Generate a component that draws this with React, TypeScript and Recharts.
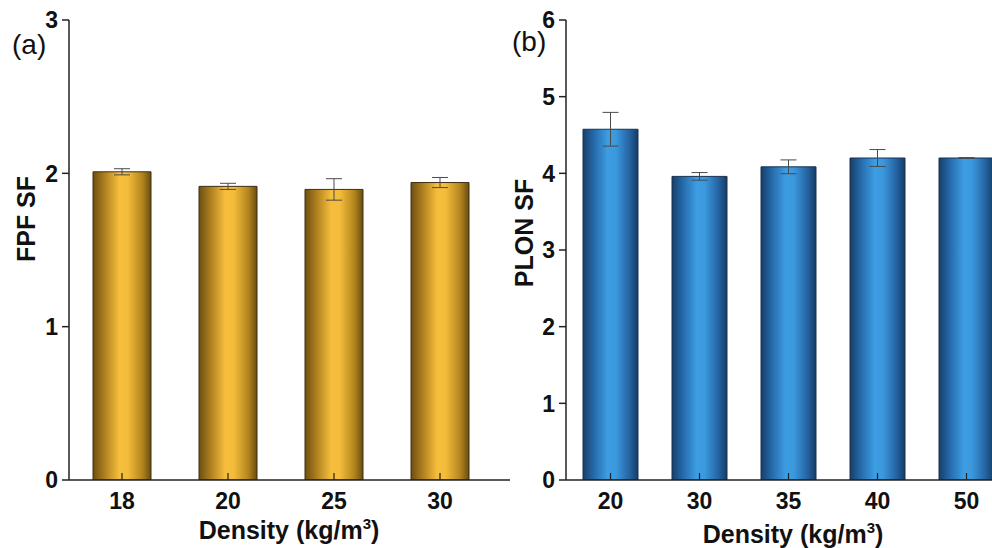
import React from 'react';
import { BarChart, Bar, XAxis, YAxis, ErrorBar } from 'recharts';

// (a) FPF
const fpfDensity = ['18', '20', '25', '30'];
const fpfSF = [2.01, 1.915, 1.895, 1.94];
const fpfErr = [0.02, 0.02, 0.07, 0.033];
const fpfTicks = [0, 1, 2, 3];

// (b) PLON
const plonDensity = ['20', '30', '35', '40', '50'];
const plonSF = [4.575, 3.96, 4.085, 4.2, 4.2];
const plonErr = [0.22, 0.05, 0.09, 0.11, 0.005];
const plonTicks = [0, 1, 2, 3, 4, 5, 6];

const fpfData = fpfDensity.map((d, i) => ({ name: d, value: fpfSF[i], err: fpfErr[i] }));
const plonData = plonDensity.map((d, i) => ({ name: d, value: plonSF[i], err: plonErr[i] }));

const FONT = '"Liberation Sans", Arial, sans-serif';

function XTick(props: any) {
  const { x, y, payload } = props;
  return (
    <text x={x} y={y} dy="0.72em" textAnchor="middle" fontSize={23} fontWeight="bold" fill="#111" fontFamily={FONT}>
      {payload.value}
    </text>
  );
}

function YTick(props: any) {
  const { x, y, payload } = props;
  return (
    <text x={x} y={y} dy="0.36em" textAnchor="end" fontSize={23} fontWeight="bold" fill="#111" fontFamily={FONT}>
      {payload.value}
    </text>
  );
}

function XTitle({ x, y }: { x: number; y: number }) {
  return (
    <text x={x} y={y} textAnchor="middle" fontSize={25} fontWeight="bold" fill="#111" fontFamily={FONT}>
      Density (kg/m<tspan dy={-10} fontSize={15}>3</tspan>
      <tspan dy={10}>)</tspan>
    </text>
  );
}

function YTitle({ x, y, text }: { x: number; y: number; text: string }) {
  return (
    <text
      x={x}
      y={y}
      transform={`rotate(-90, ${x}, ${y})`}
      textAnchor="middle"
      fontSize={25}
      fontWeight="bold"
      fill="#111"
      fontFamily={FONT}
    >
      {text}
    </text>
  );
}

export default function App() {
  return (
    <div
      style={{
        position: 'fixed',
        left: 0,
        top: 0,
        width: 992,
        height: 548,
        overflow: 'hidden',
        background: '#fff',
        fontFamily: FONT,
      }}
    >
      <div style={{ position: 'absolute', left: 0, top: 0 }}>
        <BarChart width={520} height={548} data={fpfData} margin={{ top: 20, left: 29, right: 10, bottom: 38 }}>
          <defs>
            <linearGradient id="goldGrad" x1="0" y1="0" x2="1" y2="0">
              <stop offset="0%" stopColor="#6e4f10" />
              <stop offset="18%" stopColor="#a87a1e" />
              <stop offset="45%" stopColor="#f6be3c" />
              <stop offset="60%" stopColor="#f4bc3b" />
              <stop offset="85%" stopColor="#b3851f" />
              <stop offset="100%" stopColor="#6a4c0e" />
            </linearGradient>
          </defs>
          <XAxis
            dataKey="name"
            height={30}
            padding={{ left: 0, right: 17 }}
            axisLine={{ stroke: '#222', strokeWidth: 1.5 }}
            tickLine={{ stroke: '#222', strokeWidth: 1.2 }}
            tickSize={-7}
            tickMargin={19}
            tick={<XTick />}
            label={{ content: () => <XTitle x={289} y={539} /> }}
          />
          <YAxis
            width={40}
            domain={[0, 3]}
            ticks={fpfTicks}
            allowDataOverflow
            axisLine={{ stroke: '#222', strokeWidth: 1.5 }}
            tickLine={{ stroke: '#222', strokeWidth: 1.5 }}
            tickSize={7}
            tickMargin={4}
            tick={<YTick />}
            label={{ content: () => <YTitle x={35} y={219} text="FPF SF" /> }}
          />
          <Bar dataKey="value" fill="url(#goldGrad)" stroke="#3d2f16" strokeWidth={1} barSize={58} isAnimationActive={false}>
            <ErrorBar dataKey="err" direction="y" width={8} stroke="#4a4a4a" strokeWidth={1} />
          </Bar>
        </BarChart>
      </div>

      <div style={{ position: 'absolute', left: 500, top: 0 }}>
        <BarChart width={560} height={548} data={plonData} margin={{ top: 20, left: 26, right: 49, bottom: 38 }}>
          <defs>
            <linearGradient id="blueGrad" x1="0" y1="0" x2="1" y2="0">
              <stop offset="0%" stopColor="#173f68" />
              <stop offset="18%" stopColor="#2466a6" />
              <stop offset="45%" stopColor="#3d9de3" />
              <stop offset="60%" stopColor="#3b98dd" />
              <stop offset="85%" stopColor="#2462a0" />
              <stop offset="100%" stopColor="#163c64" />
            </linearGradient>
          </defs>
          <XAxis
            dataKey="name"
            height={30}
            axisLine={{ stroke: '#222', strokeWidth: 1.5 }}
            tickLine={{ stroke: '#222', strokeWidth: 1.2 }}
            tickSize={-7}
            tickMargin={19}
            tick={<XTick />}
            label={{ content: () => <XTitle x={293} y={543} /> }}
          />
          <YAxis
            width={40}
            domain={[0, 6]}
            ticks={plonTicks}
            allowDataOverflow
            axisLine={{ stroke: '#222', strokeWidth: 1.5 }}
            tickLine={{ stroke: '#222', strokeWidth: 1.5 }}
            tickSize={7}
            tickMargin={4}
            tick={<YTick />}
            label={{ content: () => <YTitle x={33} y={233} text="PLON SF" /> }}
          />
          <Bar dataKey="value" fill="url(#blueGrad)" stroke="#1a3150" strokeWidth={1} barSize={55} isAnimationActive={false}>
            <ErrorBar dataKey="err" direction="y" width={8} stroke="#4a4a4a" strokeWidth={1} />
          </Bar>
        </BarChart>
      </div>

      <div style={{ position: 'absolute', left: 12, top: 27, fontSize: 28, lineHeight: '36px', color: '#111' }}>(a)</div>
      <div style={{ position: 'absolute', left: 512, top: 24, fontSize: 28, lineHeight: '36px', color: '#111' }}>(b)</div>
    </div>
  );
}
